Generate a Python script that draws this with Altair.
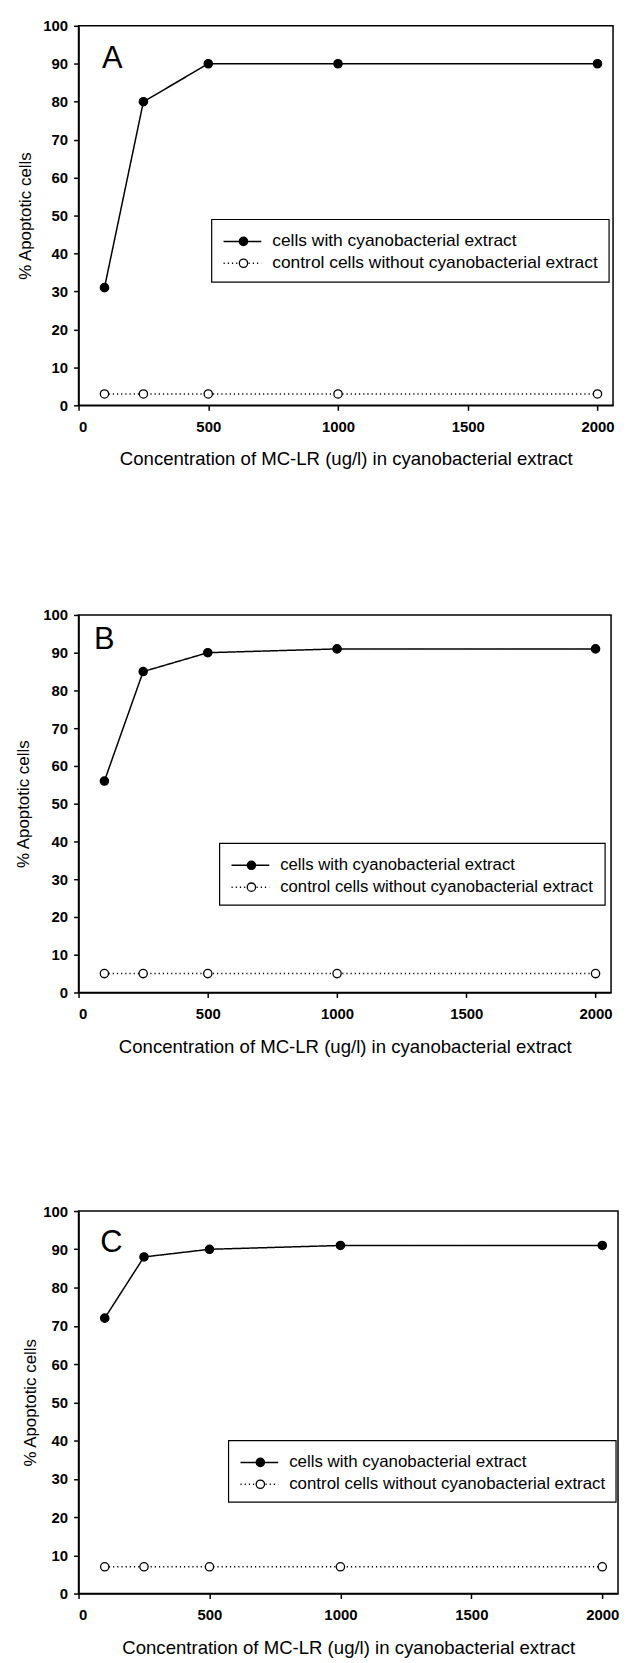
import altair as alt
import pandas as pd

# ---- data ----
conc = [100, 250, 500, 1000, 2000]
series_names = ["cells with cyanobacterial extract",
                "control cells without cyanobacterial extract"]
panel_letters = ["A", "B", "C"]
a_extract = [31, 80, 90, 90, 90]
a_control = [3, 3, 3, 3, 3]
b_extract = [56, 85, 90, 91, 91]
b_control = [5, 5, 5, 5, 5]
c_extract = [72, 88, 90, 91, 91]
c_control = [7, 7, 7, 7, 7]
x_ticks = [0, 500, 1000, 1500, 2000]
y_ticks = [0, 10, 20, 30, 40, 50, 60, 70, 80, 90, 100]
x_title = "Concentration of MC-LR (ug/l) in cyanobacterial extract"
y_title = "% Apoptotic cells"

FONT = "Liberation Sans"
ONE = pd.DataFrame({"k": [0]})


def legend_layers(bx, by, bw, bh, fs):
    """Framed key drawn inside the plot area (pixel offsets from its corner)."""
    layers = [alt.Chart(ONE).mark_rect(fill="white", stroke="black", strokeWidth=1.2).encode(
        x=alt.value(bx), x2=alt.value(bx + bw), y=alt.value(by), y2=alt.value(by + bh))]
    rows = [by + 22, by + 44]
    dashes = [[1, 0], [1.2, 3]]
    fills = ["black", "white"]
    for i, name in enumerate(series_names):
        ry = rows[i]
        layers.append(alt.Chart(ONE).mark_rule(color="black", strokeWidth=1.5,
                                              strokeDash=dashes[i]).encode(
            x=alt.value(bx + 12), x2=alt.value(bx + 50), y=alt.value(ry)))
        layers.append(alt.Chart(ONE).mark_point(shape="circle", filled=True, size=70,
                                               fill=fills[i], stroke="black",
                                               strokeWidth=1.3, opacity=1).encode(
            x=alt.value(bx + 32), y=alt.value(ry)))
        layers.append(alt.Chart(pd.DataFrame({"label": [name]})).mark_text(
            font=FONT, fontSize=fs, color="black", align="left", baseline="middle"
        ).encode(text="label:N", x=alt.value(bx + 61), y=alt.value(ry)))
    return layers


def panel(letter, extract, control, width, height, ytitle_pad, xtitle_pad,
          letter_x, letter_y, leg):
    df = pd.DataFrame({
        "conc": conc + conc,
        "pct": extract + control,
        "series": [series_names[0]] * len(conc) + [series_names[1]] * len(conc),
    })

    x = alt.X("conc:Q", scale=alt.Scale(domain=[0, 2060], nice=False),
              axis=alt.Axis(values=x_ticks, title=x_title, format="d",
                            titlePadding=xtitle_pad))
    y = alt.Y("pct:Q", scale=alt.Scale(domain=[0, 100], nice=False),
              axis=alt.Axis(values=y_ticks, title=y_title, titlePadding=ytitle_pad))

    line = alt.Chart(df).mark_line(color="black", strokeWidth=1.5).encode(
        x=x, y=y,
        strokeDash=alt.StrokeDash(
            "series:N", legend=None,
            scale=alt.Scale(domain=series_names, range=[[1, 0], [1.2, 3]])),
    )
    pts = alt.Chart(df).mark_point(shape="circle", filled=True, size=70,
                                   stroke="black", strokeWidth=1.3,
                                   opacity=1).encode(
        x=x, y=y,
        fill=alt.Fill(
            "series:N", legend=None,
            scale=alt.Scale(domain=series_names, range=["black", "white"])),
    )
    lab = alt.Chart(pd.DataFrame({"letter": [letter]})).mark_text(
        font=FONT, fontSize=31, color="black", align="center", baseline="middle"
    ).encode(text="letter:N", x=alt.value(letter_x), y=alt.value(letter_y))

    return alt.layer(line, pts, lab, *legend_layers(*leg)).properties(
        width=width, height=height)


pa = panel(panel_letters[0], a_extract, a_control, 538, 382, 8, 16, 34, 33,
           (134, 195, 400, 63, 17.5))
pb = panel(panel_letters[1], b_extract, b_control, 536, 380, 10, 16, 26, 25,
           (142, 230, 388, 62, 16.8))
pc = panel(panel_letters[2], c_extract, c_control, 543, 385, 3, 16, 33, 32,
           (151, 231, 390, 62, 17.0))

top = alt.vconcat(pa, pb, spacing=138).resolve_scale(x="independent", y="independent")

chart = alt.vconcat(top, pc, spacing=147).resolve_scale(
    x="independent", y="independent"
).properties(
    padding={"left": 6, "top": 4.5, "right": 0, "bottom": 0}
).configure(font=FONT, background="white").configure_view(
    stroke="black", strokeWidth=1.5
).configure_axis(
    grid=False, domainColor="black", domainWidth=1.5, tickColor="black",
    tickWidth=1.5, tickSize=5, labelFont=FONT, labelFontSize=15,
    labelFontWeight="bold", labelColor="black", titleFont=FONT,
    titleFontWeight="normal", titleColor="black"
).configure_axisX(
    titleFontSize=18.7, labelPadding=9
).configure_axisY(
    titleFontSize=17, labelPadding=6
)

chart.save("out.html", embed_options={"renderer": "svg", "actions": False})
